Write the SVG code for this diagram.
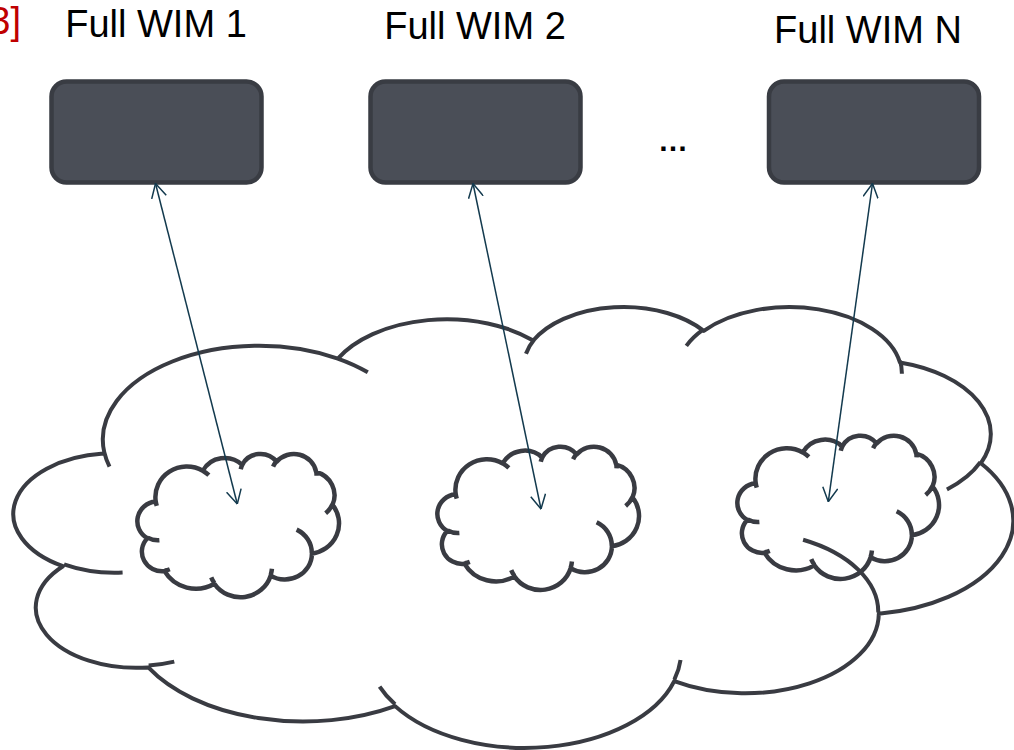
<svg xmlns="http://www.w3.org/2000/svg" xmlns:xlink="http://www.w3.org/1999/xlink" width="1014" height="750" viewBox="0 0 1014 750">
  <style>
    .lbl { font-family: "Liberation Sans", "Open Sans", sans-serif; font-size: 38px; fill: #000000; text-anchor: middle; }
    .ref { font-family: "Liberation Sans", "Open Sans", sans-serif; font-size: 38px; fill: #c00000; text-anchor: end; }
    .dots { font-family: "Liberation Sans", sans-serif; font-size: 30px; font-weight: bold; fill: #000000; text-anchor: middle; }
    .box { fill: #4a4e57; stroke: #393c43; stroke-width: 4.5; }
    .cloud { fill: none; stroke: #393b42; stroke-linecap: butt; stroke-linejoin: round; }
    .big { stroke-width: 4; }
    .small { stroke-width: 4.5; }
    .conn { fill: none; stroke: #133a4e; stroke-width: 1.5; marker-start: url(#arr); marker-end: url(#arr); }
  </style>
  <defs>
    <marker id="arr" viewBox="0 0 15 16" refX="14.5" refY="8" markerWidth="15" markerHeight="16" markerUnits="userSpaceOnUse" orient="auto-start-reverse">
      <path d="M0.5,0.5 L14.5,8 L0.5,15.5" fill="none" stroke="#133a4e" stroke-width="1.5"/>
    </marker>
    <path id="cloudShape" vector-effect="non-scaling-stroke" d="M3900,14370 A6753,9190 0 0 1 14005,5202 A5333,7267 0 0 1 22456,3432 A4365,5945 0 0 1 29833,2481 A4857,6595 0 0 1 38318,5576 A5333,7273 0 0 1 41818,15460 A6775,9220 0 0 1 37404,30203 A5785,7867 0 0 1 28556,36813 A6752,9215 0 0 1 16480,39264 A7720,10543 0 0 1 5805,35470 A4360,5918 0 0 1 2114,25548 A4345,5945 0 0 1 3864,14505 Z M4693,26177 A4345,5945 0 0 1 2160,25380 M6928,34899 A4360,5918 0 0 1 5820,35281 M16478,39090 A6752,9215 0 0 1 15810,37350 M28827,34751 A6752,9215 0 0 1 28560,36660 M34129,22954 A5785,7867 0 0 1 37381,30090 M41798,15354 A5333,7273 0 0 1 40350,18030 M38324,5426 A4857,6595 0 0 1 38401,6690 M29078,3952 A4857,6595 0 0 1 29820,2341 M22141,4720 A4365,5945 0 0 1 22500,3330 M14000,5192 A6753,9190 0 0 1 15300,6540 M4127,15789 A6753,9190 0 0 1 3900,14370"/>
  </defs>
  <rect x="0" y="0" width="1014" height="750" fill="#ffffff"/>

  <text class="ref" x="21" y="34">3]</text>

  <g id="network-cloud">
    <use xlink:href="#cloudShape" href="#cloudShape" class="cloud big" transform="translate(14.1,305.56) scale(0.023118,0.010202)"/>
  </g>

  <g id="domain-cloud-1">
    <use xlink:href="#cloudShape" href="#cloudShape" class="cloud small" transform="translate(137.5,453.5) scale(0.004663,0.003316)"/>
  </g>
  <g id="domain-cloud-2">
    <use xlink:href="#cloudShape" href="#cloudShape" class="cloud small" transform="translate(437.5,446.2) scale(0.004663,0.003316)"/>
  </g>
  <g id="domain-cloud-3">
    <use xlink:href="#cloudShape" href="#cloudShape" class="cloud small" transform="translate(737.5,435.2) scale(0.004663,0.003316)"/>
  </g>

  <g id="wim-1">
    <text class="lbl" x="156" y="37">Full WIM 1</text>
    <rect class="box" x="51.5" y="81.5" width="210" height="101" rx="15" ry="15"/>
  </g>
  <g id="wim-2">
    <text class="lbl" x="475" y="39">Full WIM 2</text>
    <rect class="box" x="370.5" y="81.5" width="210" height="101" rx="15" ry="15"/>
  </g>
  <g id="wim-n">
    <text class="lbl" x="868" y="43">Full WIM N</text>
    <rect class="box" x="769" y="81.5" width="210" height="101" rx="15" ry="15"/>
  </g>

  <text class="dots" x="673" y="150.5">…</text>

  <g id="connectors">
    <line class="conn" x1="155.5" y1="183.5" x2="237.3" y2="504"/>
    <line class="conn" x1="473" y1="183.5" x2="541" y2="509"/>
    <line class="conn" x1="872.5" y1="183.5" x2="828.3" y2="501.7"/>
  </g>
</svg>
